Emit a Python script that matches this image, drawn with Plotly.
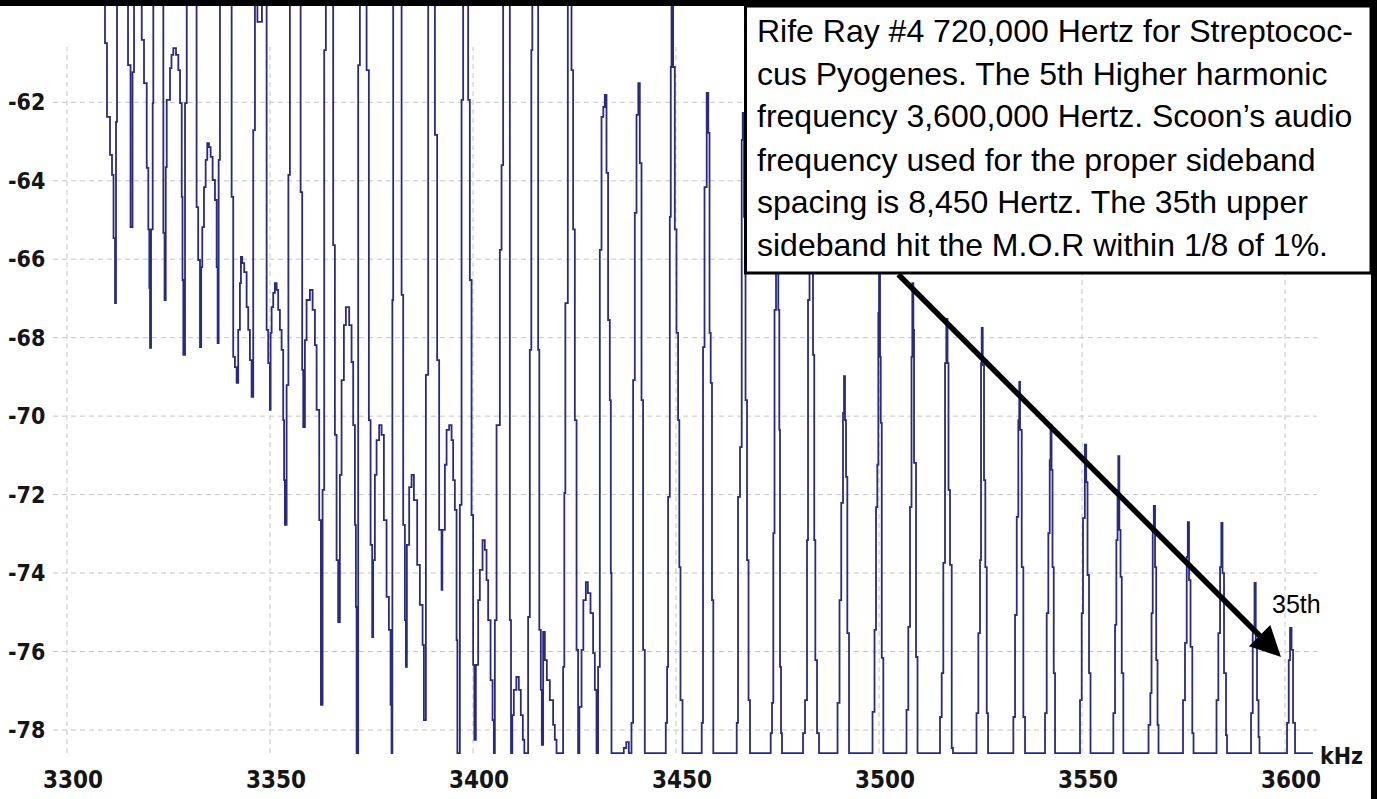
import plotly.graph_objects as go

# ---- spectrum trace, stepped (hv) vertices ----
# dense part (overlapping sidebands + interleaved humps), kHz / dB
dense_khz = [3308.87, 3309.36, 3309.85, 3310.59, 3311.09, 3311.46, 3311.83, 3312.07, 3312.32,
             3315.03, 3315.65, 3316.14, 3316.51,
             3318.41, 3318.97, 3319.64, 3320.03, 3320.28, 3320.45, 3320.70, 3321.11, 3321.26,
             3323.73, 3324.03, 3324.32, 3324.56, 3325.37, 3325.74, 3326.19, 3326.85, 3327.42, 3327.84,
             3328.26, 3328.45, 3328.65, 3329.07, 3329.49,
             3331.92, 3332.31, 3332.76, 3333.05, 3333.32, 3333.74, 3334.15, 3334.55, 3334.96, 3335.38,
             3335.87, 3336.44, 3336.86, 3337.10, 3337.35, 3337.67,
             3340.55, 3340.94, 3341.36, 3341.78, 3342.17, 3342.59, 3342.84, 3343.16, 3343.65, 3344.24,
             3344.64, 3345.05, 3345.47, 3345.87, 3346.29, 3346.90, 3348.01,
             3349.17, 3349.56, 3349.98, 3350.15, 3350.40, 3350.79, 3351.21, 3351.63, 3352.02, 3352.44,
             3352.86, 3353.25, 3353.47, 3353.67, 3354.09, 3354.53, 3354.90,
             3357.54, 3357.93, 3358.18, 3358.60, 3359.01, 3359.83, 3360.49, 3361.06, 3361.48, 3362.12,
             3362.54, 3362.95, 3363.35, 3363.76,
             3365.56, 3365.98, 3366.40, 3366.79, 3367.21, 3367.63, 3368.20, 3368.69, 3369.50, 3370.09,
             3370.49, 3370.91, 3371.15, 3371.33, 3371.72, 3372.14,
             3373.79, 3374.35, 3374.77, 3375.17, 3375.41, 3375.83, 3376.25, 3376.89, 3377.48, 3378.05,
             3378.71, 3379.28, 3379.70, 3379.94, 3380.14, 3380.34,
             3382.41, 3382.80, 3383.22, 3383.47, 3383.71, 3384.28, 3384.87, 3385.44, 3386.25, 3386.91,
             3387.58, 3387.90, 3388.39, 3388.96,
             3390.61, 3391.17, 3391.66, 3392.26, 3392.45, 3393.07, 3393.49, 3394.13, 3394.72, 3395.11,
             3395.53, 3395.95, 3396.15, 3396.76, 3397.18, 3397.57,
             3398.80, 3399.22, 3399.64, 3400.03, 3400.33, 3400.70, 3401.27, 3401.68, 3402.35, 3402.91,
             3403.33, 3403.73, 3404.32, 3404.81, 3405.13, 3405.38, 3405.80, 3406.61, 3407.03, 3407.42,
             3409.07, 3409.36, 3409.68, 3410.05, 3410.67, 3411.28, 3411.77, 3412.27, 3412.64,
             3413.57, 3413.99, 3414.36, 3414.61,
             3416.04, 3416.33, 3416.70, 3416.95, 3417.27, 3417.69, 3418.18, 3418.92, 3419.73, 3420.15,
             3420.57,
             3422.19, 3422.49, 3422.74, 3423.35, 3424.26, 3424.66, 3425.08, 3425.50, 3425.89,
             3426.19, 3426.73, 3427.17, 3427.79, 3428.28, 3428.94, 3429.58, 3430.00, 3430.42,
             3430.81, 3431.23, 3431.65, 3432.09, 3432.46, 3432.88, 3433.27, 3433.69, 3433.94, 3434.11,
             3437.14, 3437.75, 3438.37,
             3439.03, 3439.43, 3439.85, 3440.27, 3440.71, 3441.08, 3441.50, 3441.89, 3442.31,
             3447.48, 3447.80, 3448.05, 3448.47, 3448.71, 3448.89, 3449.28, 3449.70, 3450.12, 3450.51,
             3450.81, 3451.10, 3451.60]
dense_db = [-58, -60.49, -62.37, -63.34, -63.85, -65.46, -67.12, -62.50, -58,
            -61.05, -65.18, -61.23, -58,
            -60.41, -61.51, -63.67, -65.24, -66.73, -68.26, -65.24, -62.02, -58,
            -65.33, -67.04, -63.65, -61.94, -61.13, -60.79, -60.62, -60.79, -61.18, -62.02,
            -64.41, -66.53, -68.44, -62.02, -58,
            -64.67, -66.02, -68.24, -66.20, -65.18, -64.16, -63.47, -63.04, -63.14, -63.39,
            -63.98, -64.49, -66.20, -68.14, -63.47, -58,
            -64.41, -68.49, -68.75, -69.15, -67.80, -66.61, -65.94, -66.10, -66.33, -67.22,
            -67.80, -68.57, -69.51, -62.71, -58, -59.95, -58,
            -67.80, -68.65, -69.84, -67.88, -67.22, -66.86, -66.61, -66.78, -67.29, -67.80,
            -68.31, -70.10, -71.63, -72.77, -69.21, -63.85, -58,
            -64.29, -68.82, -70.28, -68.06, -67.04, -66.78, -67.29, -68.19, -69.84, -72.65,
            -77.36, -71.88, -60.67, -58,
            -65.64, -70.48, -73.67, -75.25, -71.50, -69.08, -67.68, -67.22, -67.68, -68.62,
            -70.23, -72.77, -74.86, -78.59, -61.05, -58,
            -61.18, -70.10, -73.28, -75.63, -73.67, -71.50, -70.61, -70.23, -70.48, -72.65,
            -74.61, -75.45, -77.36, -78.59, -67.04, -58,
            -66.91, -72.77, -75.20, -76.39, -73.28, -71.81, -71.50, -72.14, -73.79, -74.81,
            -75.83, -77.75, -68.95, -58,
            -62.83, -68.57, -72.90, -74.43, -72.90, -71.24, -70.35, -70.23, -70.61, -71.63,
            -72.39, -75.71, -78.59, -72.26, -61.94, -58,
            -61.94, -66.53, -72.52, -76.34, -78.25, -76.34, -74.69, -73.92, -73.16, -73.41,
            -74.18, -75.20, -76.73, -77.75, -78.59, -75.20, -70.23, -65.76, -63.60, -58,
            -75.20, -78.59, -77.62, -76.98, -76.65, -76.98, -77.62, -78.25, -78.59,
            -75.12, -68.31, -60.67, -58,
            -68.31, -75.45, -76.98, -78.38, -75.50, -76.22, -76.73, -77.24, -77.87, -78.25,
            -78.59,
            -76.39, -71.96, -67.12, -58, -61.18, -65.24, -70.10, -75.96, -78.59,
            -77.41, -75.96, -74.69, -74.23, -74.51, -75.02, -76.04, -76.98, -78.59,
            -76.39, -65.76, -62.37, -62.12, -61.81, -63.80, -67.55, -69.59, -74.00, -78.59,
            -78.46, -78.31, -78.59,
            -77.82, -69.08, -64.82, -62.32, -61.51, -63.55, -69.59, -75.96, -78.59,
            -77.82, -76.39, -72.06, -64.92, -61.10, -58, -61.10, -65.24, -67.88, -70.10,
            -73.85, -77.24, -78.59]

# separated upper sidebands (8.45 kHz spacing), kHz / dB
sideband_khz = [3456.33, 3456.65, 3457.02, 3457.56, 3457.95, 3458.25, 3458.54, 3458.86, 3459.18,
                3464.95, 3465.27, 3465.76, 3466.18, 3466.43, 3466.75, 3467.12, 3467.49, 3467.86, 3468.22,
                3473.32, 3473.64, 3473.96, 3474.26, 3474.63, 3474.87, 3475.19, 3475.44, 3475.61, 3475.86, 3476.10,
                3481.28, 3481.77, 3482.26, 3482.51, 3482.88, 3483.13, 3483.50, 3483.74, 3484.04, 3484.31, 3484.73, 3485.22,
                3489.78, 3490.27, 3490.69, 3491.13, 3491.38, 3491.62, 3491.87, 3492.19, 3492.61,
                3498.40, 3498.89, 3499.26, 3499.58, 3499.83, 3500.00, 3500.25, 3500.42, 3500.67, 3501.06,
                3506.77, 3507.21, 3507.63, 3508.00, 3508.20, 3508.45, 3508.62, 3509.11, 3509.48,
                3515.02, 3515.44, 3515.83, 3516.25, 3516.57, 3516.87, 3517.11, 3517.48, 3517.90, 3518.22,
                3524.01, 3524.46, 3524.87, 3525.12, 3525.29, 3525.54, 3525.86, 3526.18, 3526.53, 3526.85,
                3533.08, 3533.50, 3533.92, 3534.31, 3534.53, 3534.73, 3535.15, 3535.54, 3535.96,
                3540.88, 3541.30, 3541.70, 3542.04, 3542.24, 3542.49, 3542.73, 3543.03, 3543.35,
                3549.50, 3549.92, 3550.24, 3550.69, 3551.03, 3551.35, 3551.72, 3552.09,
                3557.71, 3558.13, 3558.45, 3558.75, 3558.94, 3559.19, 3559.48, 3559.78, 3560.17,
                3566.38, 3566.82, 3567.12, 3567.41, 3567.68, 3567.98, 3568.27, 3568.59, 3568.84,
                3574.87, 3575.36, 3575.78, 3576.05, 3576.35, 3576.72, 3577.16, 3577.46,
                3583.12, 3583.57, 3583.99, 3584.31, 3584.60, 3584.97, 3585.46, 3585.71,
                3591.62, 3592.04, 3592.48, 3592.78, 3593.10, 3593.47, 3593.71,
                3600.49, 3600.91, 3601.23, 3601.60, 3601.97, 3602.46,
                3606.89]
sideband_db = [-77.82, -68.24, -64.16, -61.76, -62.78, -67.88, -69.15, -74.69, -78.59,
               -77.82, -72.06, -70.79, -62.96, -62.27, -64.92, -69.59, -73.67, -77.24, -78.59,
               -78.08, -77.31, -72.98, -67.29, -63.22, -62.20, -67.29, -70.35, -76.39, -78.08, -78.59,
               -78.08, -77.24, -73.16, -67.04, -63.22, -62.71, -64.49, -68.44, -73.16, -76.22, -78.08, -78.59,
               -77.31, -74.69, -72.21, -69.92, -68.98, -70.10, -71.55, -75.53, -78.59,
               -77.54, -75.45, -72.32, -71.24, -67.37, -64.49, -68.49, -70.17, -76.16, -78.59,
               -77.49, -75.37, -72.32, -68.49, -66.61, -67.80, -71.19, -76.14, -78.59,
               -77.67, -76.55, -73.74, -68.65, -67.52, -68.65, -71.88, -73.79, -78.46, -78.59,
               -77.57, -75.53, -73.67, -68.65, -67.75, -68.70, -71.63, -73.85, -77.57, -78.59,
               -77.67, -75.07, -72.57, -70.10, -69.13, -70.35, -73.85, -77.67, -78.59,
               -77.57, -75.02, -72.98, -71.12, -70.23, -71.37, -73.85, -76.55, -78.59,
               -77.24, -75.02, -72.60, -70.73, -71.68, -74.05, -76.55, -78.59,
               -77.57, -75.32, -73.16, -71.88, -71.02, -72.90, -74.10, -76.55, -78.59,
               -77.87, -77.06, -75.02, -72.90, -72.29, -73.85, -76.22, -77.87, -78.59,
               -77.24, -75.78, -73.59, -72.70, -74.18, -75.88, -78.08, -78.59,
               -77.24, -75.53, -73.85, -72.72, -74.00, -76.55, -78.13, -78.59,
               -77.57, -75.53, -74.25, -75.71, -77.24, -78.18, -78.59,
               -77.82, -76.22, -75.40, -75.96, -77.82, -78.59,
               -78.59]

y_ticks = [-62, -64, -66, -68, -70, -72, -74, -76, -78]
x_ticks = [3300, 3350, 3400, 3450, 3500, 3550, 3600]
x_unit = "kHz"
note_lines = [
    "Rife Ray #4 720,000 Hertz for Streptococ-",
    "cus Pyogenes. The 5th Higher harmonic",
    "frequency 3,600,000 Hertz. Scoon\u2019s audio",
    "frequency used for the proper sideband",
    "spacing is 8,450 Hertz. The 35th upper",
    "sideband hit the M.O.R within 1/8 of 1%.",
]
marker_label = "35th"
arrow_tip = (3599.0, -76.14)
arrow_tail = (3504.4, -66.35)

# ---- layout geometry ----
W, H = 1377, 799
ML, MR, MT, MB = 0, 6, 6, 0
X_RANGE = [3283.5, 3621.17]
Y_RANGE = [-79.76, -59.545]
GRID_X = [3296.55, 3607.88]
GRID_Y = [-78.59, -60.59]
TRACE_COLOR = "#2a2a82"
GRID_STYLE = dict(color="#c6c6c6", width=1, dash="5px,4px")
YTICK_FONT = dict(family="DejaVu Sans Condensed, DejaVu Sans", size=23, color="#151515")
XTICK_FONT = dict(family="DejaVu Sans Condensed, DejaVu Sans", size=24, color="#151515")
NOTE_FONT = dict(family="Liberation Sans, Arial", size=32, color="black")

fig = go.Figure()
fig.add_trace(go.Scatter(
    x=dense_khz + sideband_khz, y=dense_db + sideband_db,
    mode="lines", line=dict(color=TRACE_COLOR, width=1.8, shape="hv"),
    hoverinfo="skip", showlegend=False))

pw, ph = W - ML - MR, H - MT - MB
for v in y_ticks:
    fig.add_shape(type="line", xref="x", yref="y", x0=GRID_X[0], x1=GRID_X[1], y0=v, y1=v,
                  line=GRID_STYLE, layer="below")
    fig.add_annotation(xref="paper", yref="y", x=6 / pw, y=v, text=f"<b>{v}</b>",
                       xanchor="left", yanchor="middle", showarrow=False, font=YTICK_FONT)
for v in x_ticks:
    fig.add_shape(type="line", xref="x", yref="y", x0=v, x1=v, y0=GRID_Y[0], y1=GRID_Y[1],
                  line=GRID_STYLE, layer="below")
    fig.add_annotation(xref="x", yref="y", x=v, y=-79.28, xshift=6, text=f"<b>{v}</b>",
                       xanchor="center", yanchor="middle", showarrow=False, font=XTICK_FONT)

fig.add_annotation(xref="x", yref="y", x=3613.8, y=-78.66, text=f"<b>{x_unit}</b>",
                   xanchor="center", yanchor="middle", showarrow=False, font=YTICK_FONT)

# note box
fig.add_shape(type="rect", xref="paper", yref="paper",
              x0=745.5 / pw, x1=1.0, y0=(H - 273) / ph, y1=1.0,
              fillcolor="white", line=dict(color="black", width=3), layer="above")
line_y = [-60.17, -61.27, -62.36, -63.46, -64.55, -65.65]
for txt, yy in zip(note_lines, line_y):
    fig.add_annotation(xref="x", yref="y", x=3469.4, y=yy, text=txt, xanchor="left",
                       yanchor="middle", showarrow=False, font=NOTE_FONT)

# arrow to the 35th sideband
fig.add_annotation(xref="x", yref="y", x=arrow_tip[0], y=arrow_tip[1],
                   axref="x", ayref="y", ax=arrow_tail[0], ay=arrow_tail[1],
                   text="", showarrow=True, arrowhead=2, arrowsize=1.1, arrowwidth=5.5,
                   arrowcolor="black", standoff=0)
fig.add_annotation(xref="x", yref="y", x=3602.9, y=-74.79, text=marker_label,
                   xanchor="center", yanchor="middle", showarrow=False,
                   font=dict(family="Liberation Sans, Arial", size=25, color="black"))

fig.update_xaxes(range=X_RANGE, showgrid=False, zeroline=False, showticklabels=False,
                 ticks="", showline=False, fixedrange=True)
fig.update_yaxes(range=Y_RANGE, showgrid=False, zeroline=False, showticklabels=False,
                 ticks="", showline=False, fixedrange=True)
fig.update_layout(width=W, height=H, autosize=False,
                  margin=dict(l=ML, r=MR, t=MT, b=MB, pad=0),
                  paper_bgcolor="black", plot_bgcolor="white", showlegend=False)

fig.write_html("out.html",
               post_script="document.body.style.margin='0px';"
                           "document.documentElement.style.overflow='hidden';",
               config={"displayModeBar": False})
